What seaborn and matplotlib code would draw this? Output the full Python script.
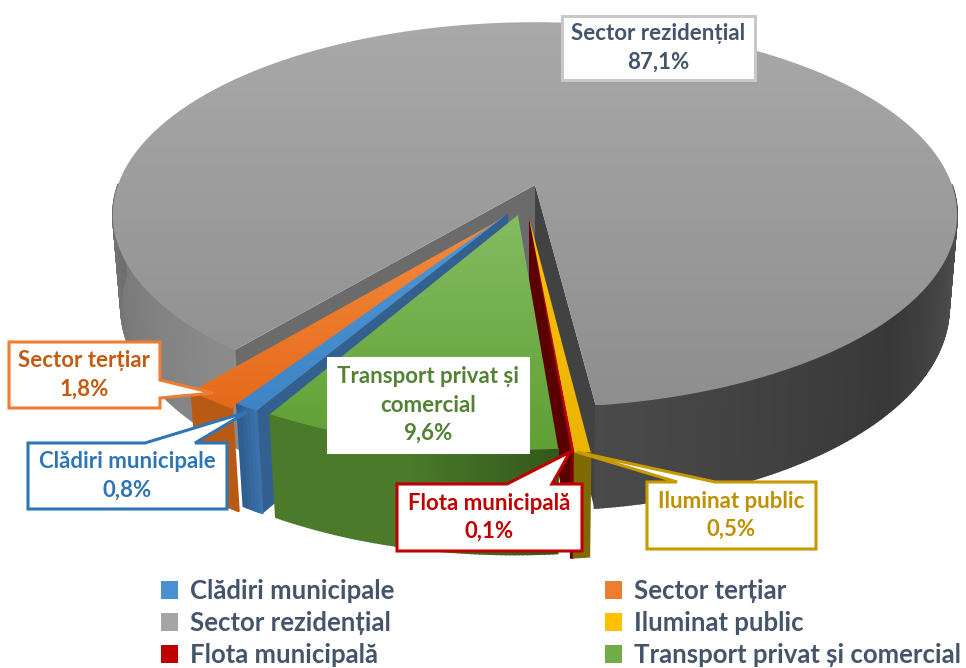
import numpy as np
import matplotlib
matplotlib.use('Agg')
import matplotlib.pyplot as plt
from matplotlib.patches import Patch, Polygon
import seaborn as sns

categories = ['Clădiri municipale', 'Sector terțiar', 'Sector rezidențial',
              'Iluminat public', 'Flota municipală', 'Transport privat și comercial']
values = [0.8, 1.8, 87.1, 0.5, 0.1, 9.6]
value_labels = ['0,8%', '1,8%', '87,1%', '0,5%', '0,1%', '9,6%']

sns.set_theme(style='white')
plt.rcParams['font.family'] = ['Lato', 'DejaVu Sans']

# camera of the fake 3d pie, in pixels
CX, CY = 535, 185
R, S, D = 417, 188, 93
K, M = 0.155, 0.019
START = 210

# how far each slice is pulled out of the pie (u, v)
offsets = [(-0.063, 0.146), (-0.07, 0.165), (0, 0), (-0.014, 0.171), (-0.014, 0.171), (-0.04, 0.156)]
top_colors = [('#4f97d8', '#3f85c6'), ('#f58b3e', '#e56a1a'), ('#a9a9a9', '#8e8e8e'),
              ('#ffc000', '#eab400'), ('#c00000', '#c00000'), ('#84bc62', '#5f9f33')]
side_colors = [['#3a72ac', '#2f5f91'], ['#b85a14', '#b85a14'], None,
               ['#7f6a00', '#7f6a00'], ['#7a0000', '#7a0000'], ['#4c7a2b', '#4a7a2a', '#34581c']]
wall_colors = ['#34608f', None, None, None, '#5a0000', None]
legend_colors = ['#4a90d2', '#ed7d31', '#a5a5a5', '#ffc000', '#c00000', '#70ad47']
draw_order = [2, 1, 0, 4, 3, 5]

# grey side goes light-dark-dark around the rim
grey_angles = [219, 270, 450, 490, 533]
grey_levels = [0x8c, 0x6e, 0x5a, 0x38, 0x4a]


def project(u, v, z=0.0):
    w = 1 - K * v + M * z
    return CX + R * u / w, CY + (S * v + D * z) / w


def rim(angle, off, z=0.0):
    a = np.radians(angle)
    return project(np.sin(a) + off[0], -np.cos(a) + off[1], z)


def gradient_face(ax, pts, colors, zorder):
    pts = np.array(pts)
    patch = Polygon(pts, closed=True, fc='none', ec='none', transform=ax.transData)
    ax.add_patch(patch)
    cmap = sns.blend_palette(colors, as_cmap=True)
    im = ax.imshow(np.linspace(0, 1, 256).reshape(-1, 1), cmap=cmap, aspect='auto', zorder=zorder,
                   extent=[pts[:, 0].min(), pts[:, 0].max(), pts[:, 1].max(), pts[:, 1].min()])
    im.set_clip_path(patch)


fig = plt.figure(figsize=(9.66, 6.68), dpi=100)
ax = fig.add_axes([0, 0, 1, 1])

spans = np.array(values) * 3.6
ends = START + np.cumsum(spans)
starts = ends - spans

z = 1
for i in draw_order:
    off = offsets[i]
    a0, a1 = starts[i], ends[i]
    angles = np.linspace(a0, a1, max(int(spans[i] * 2), 2) + 1)
    centre = project(off[0], off[1])
    centre_low = project(off[0], off[1], 1)
    top = [centre] + [rim(a, off) for a in angles]

    if i == 2:
        # inner walls of the notch
        ax.fill(*zip(centre, rim(a0, off), rim(a0, off, 1), centre_low), color='#6b6b6b', lw=0, zorder=z)
        ax.fill(*zip(centre, rim(a1, off), rim(a1, off, 1), centre_low), color='#424242', lw=0, zorder=z)
    if wall_colors[i] is not None:
        ax.fill(*zip(centre, rim(a0, off), rim(a0, off, 1), centre_low),
                color=wall_colors[i], lw=0, zorder=z)
    z += 1

    for j in range(len(angles) - 1):
        b0, b1 = angles[j], angles[j + 1]
        # back half of the rim is hidden by the top face
        if np.cos(np.radians(b0)) > 0 and np.cos(np.radians(b1)) > 0:
            continue
        if i == 2:
            g = np.interp((b0 + b1) / 2, grey_angles, grey_levels) / 255
            col = (g, g, g)
        else:
            pal = sns.blend_palette(side_colors[i], len(angles) - 1)
            col = pal[len(angles) - 2 - j] if i == 5 else pal[j]
        ax.fill(*zip(rim(b0, off), rim(b1, off), rim(b1, off, 1), rim(b0, off, 1)),
                fc=col, lw=1.2, ec=col, zorder=z)
    z += 1
    gradient_face(ax, top, top_colors[i], z)
    z += 1

# callouts: box (x0, y0, x1, y1), pointer, edge colour, text colour, label lines
callouts = [
    ((562, 16, 755, 80), None, '#c8c8c8', '#44546a', 2),
    ((9, 342, 160, 408), [(160, 380), (213, 393), (160, 398)], '#ed7d31', '#c55a11', 1),
    ((28, 443, 227, 509), [(145, 443), (247, 412), (195, 443)], '#2e75b6', '#2e75b6', 0),
    ((328, 358, 528, 452), None, 'white', '#548235', 5),
    ((397, 484, 582, 551), [(507, 484), (570, 452), (552, 484)], '#c00000', '#c00000', 4),
    ((647, 482, 816, 549), [(677, 482), (577, 452), (715, 482)], '#c99a00', '#bf9000', 3),
]
names = {5: 'Transport privat și\ncomercial'}
for box, pointer, edge, text_col, idx in callouts:
    x0, y0, x1, y1 = box
    if pointer is None:
        outline = [(x0, y0), (x1, y0), (x1, y1), (x0, y1)]
    elif pointer[0][0] == x1:
        outline = [(x0, y0), (x1, y0)] + pointer + [(x1, y1), (x0, y1)]
    else:
        outline = [(x0, y0)] + pointer + [(x1, y0), (x1, y1), (x0, y1)]
    ax.add_patch(Polygon(outline, closed=True, fc='white', ec=edge, lw=2.2, joinstyle='miter', zorder=z))
    label = names.get(idx, categories[idx]) + '\n' + value_labels[idx]
    ax.text((x0 + x1) / 2, (y0 + y1) / 2, label, ha='center', va='center', fontsize=16,
            fontweight='bold', color=text_col, linespacing=1.42, zorder=z + 1)

ax.set_xlim(0, 966)
ax.set_ylim(668, 0)
ax.axis('off')

# legend fills column by column
order = [0, 2, 4, 1, 3, 5]
handles = [Patch(fc=legend_colors[i], ec='none', label=categories[i]) for i in order]
ax.legend(handles=handles, ncols=2, frameon=False, prop={'size': 18.5, 'weight': 'bold'}, labelcolor='#44546a',
          loc='center left', bbox_to_anchor=(161 / 966, 1 - 623 / 668), borderaxespad=0, borderpad=0,
          handlelength=0.66, handleheight=0.66, handletextpad=0.47, columnspacing=8.2, labelspacing=0.31)

plt.savefig('out.png', dpi=100)
